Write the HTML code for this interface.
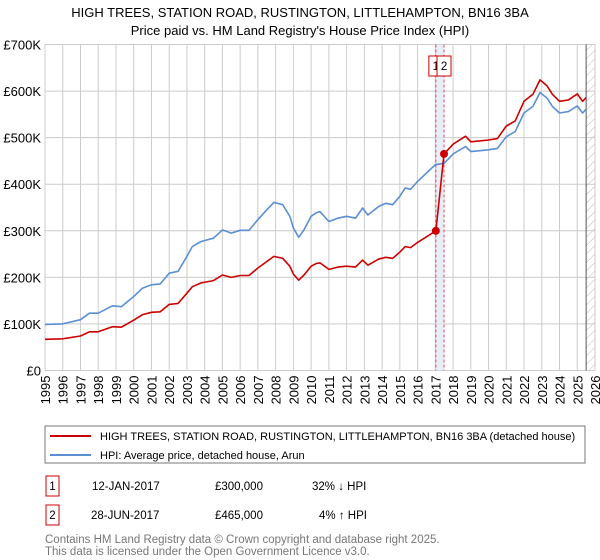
<!DOCTYPE html>
<html><head><meta charset="utf-8"><style>
body{margin:0;background:#fff;font-family:"Liberation Sans","DejaVu Sans",sans-serif;}
#wrap{position:relative;width:600px;height:560px;overflow:hidden}
</style></head><body>
<div id="wrap">
<svg id="chart" width="600" height="560" xmlns="http://www.w3.org/2000/svg" font-family="Liberation Sans, DejaVu Sans, sans-serif">
<text x="300" y="17" text-anchor="middle" font-size="13" fill="#000">HIGH TREES, STATION ROAD, RUSTINGTON, LITTLEHAMPTON, BN16 3BA</text>
<text x="300" y="35" text-anchor="middle" font-size="13" fill="#000">Price paid vs. HM Land Registry's House Price Index (HPI)</text>
<g id="grid"></g>
<g id="marks"></g>
<g id="axes"></g>
<rect x="45" y="426" width="540" height="37" fill="none" stroke="#777" stroke-width="1"/>
<line x1="50" y1="436" x2="91" y2="436" stroke="#cc0000" stroke-width="2"/>
<text x="100" y="440" font-size="11">HIGH TREES, STATION ROAD, RUSTINGTON, LITTLEHAMPTON, BN16 3BA (detached house)</text>
<line x1="50" y1="455" x2="91" y2="455" stroke="#5b8fd4" stroke-width="2"/>
<text x="100" y="459" font-size="11">HPI: Average price, detached house, Arun</text>
<g font-size="11.5">
<rect x="46" y="476" width="13" height="20" fill="none" stroke="#cc0000"/>
<text x="52.5" y="490" text-anchor="middle">1</text>
<text x="92" y="490">12-JAN-2017</text>
<text x="215" y="490">£300,000</text>
<text x="312" y="490">32% ↓ HPI</text>
</g>
<g font-size="11.5">
<rect x="46" y="505" width="13" height="20" fill="none" stroke="#cc0000"/>
<text x="52.5" y="519" text-anchor="middle">2</text>
<text x="91" y="519">28-JUN-2017</text>
<text x="215" y="519">£465,000</text>
<text x="319" y="519">4% ↑ HPI</text>
</g>
<text x="45" y="543" font-size="11.5" fill="#777">Contains HM Land Registry data © Crown copyright and database right 2025.</text>
<text x="45" y="555" font-size="11.5" fill="#777">This data is licensed under the Open Government Licence v3.0.</text>
</svg>
</div>
<script>
const hpiYears=[1995,1996,1997,1997.5,1998,1998.8,1999.3,2000,2000.5,2001,2001.5,2002,2002.5,2003,2003.3,2003.8,2004.5,2005,2005.5,2006,2006.5,2007,2007.5,2007.9,2008.4,2008.8,2009,2009.3,2009.6,2010,2010.3,2010.5,2011,2011.5,2012,2012.5,2012.9,2013.2,2013.8,2014.2,2014.6,2015,2015.3,2015.6,2016,2016.5,2017,2017.5,2018,2018.7,2019,2019.5,2020,2020.5,2021,2021.5,2022,2022.5,2022.9,2023.3,2023.6,2024,2024.5,2025,2025.3,2025.5];
const hpiValues=[99,100,109,123,123,139,137,159,177,184,186,209,213,245,266,277,284,302,295,301,301,324,345,361,356,331,306,286,302,331,339,341,320,327,331,327,349,334,352,359,356,374,392,389,406,424,442,445,465,481,470,472,474,477,502,513,553,567,597,585,567,553,556,568,553,561];
const propYears=[1995,1996,1997,1997.5,1998,1998.8,1999.3,2000,2000.5,2001,2001.5,2002,2002.5,2003,2003.3,2003.8,2004.5,2005,2005.5,2006,2006.5,2007,2007.5,2007.9,2008.4,2008.8,2009,2009.3,2009.6,2010,2010.3,2010.5,2011,2011.5,2012,2012.5,2012.9,2013.2,2013.8,2014.2,2014.6,2015,2015.3,2015.6,2016,2016.5,2017.03,2017.49,2018,2018.7,2019,2019.5,2020,2020.5,2021,2021.5,2022,2022.5,2022.9,2023.3,2023.6,2024,2024.5,2025,2025.3,2025.5];
const propValues=[67,68,74,83,83,94,93,108,120,125,126,142,144,166,180,188,193,205,200,204,204,220,234,245,241,224,207,194,205,224,230,231,217,222,224,222,237,226,239,243,241,254,266,264,275,287,300,465,486,503,491,493,495,498,525,536,578,593,624,611,593,578,581,594,578,586];
const saleYears=[2017.03,2017.49];
const saleValues=[300,465];
const saleLabels=["1","2"];
const yTicks=[0,100,200,300,400,500,600,700];
const yTickLabels=["£0","£100K","£200K","£300K","£400K","£500K","£600K","£700K"];
const xTicks=[1995,1996,1997,1998,1999,2000,2001,2002,2003,2004,2005,2006,2007,2008,2009,2010,2011,2012,2013,2014,2015,2016,2017,2018,2019,2020,2021,2022,2023,2024,2025,2026];

const X0=45,X1=595,Y0=370.5,Y1=44.5,XMIN=1995,XMAX=2026,YMAX=700;
const sx=v=>X0+(v-XMIN)/(XMAX-XMIN)*(X1-X0);
const sy=v=>Y0-v/YMAX*(Y0-Y1);
const NS="http://www.w3.org/2000/svg";
function mk(tag,attrs,parent){const e=document.createElementNS(NS,tag);for(const k in attrs)e.setAttribute(k,attrs[k]);parent.appendChild(e);return e;}
const grid=document.getElementById('grid'),marks=document.getElementById('marks'),axes=document.getElementById('axes');

const defs=mk('defs',{},grid);
const pat=mk('pattern',{id:'hatch',width:6,height:6,patternUnits:'userSpaceOnUse',patternTransform:'rotate(45)'},defs);
mk('line',{x1:0,y1:0,x2:0,y2:6,stroke:'#bbb','stroke-width':1},pat);
const hatch=mk('rect',{x:sx(2025.5),y:Y1,width:X1-sx(2025.5),height:Y0-Y1,fill:'url(#hatch)'},grid);



yTicks.forEach((t,i)=>{
  const l=mk('line',{x1:X0,x2:X1,y1:sy(t),y2:sy(t),stroke:'#ccc','stroke-width':1},grid);
  
  
  const tx=mk('text',{x:X0-4,y:sy(t)+5,'text-anchor':'end','font-size':13,fill:'#000'},axes);
  tx.textContent=yTickLabels[i];
  
  
});
xTicks.forEach(t=>{
  const l=mk('line',{x1:sx(t),x2:sx(t),y1:Y1,y2:Y0,stroke:'#ccc','stroke-width':1},grid);
  
  
  const tx=mk('text',{x:0,y:0,'text-anchor':'end','font-size':13,fill:'#000',transform:`translate(${sx(t)+5},${Y0+5}) rotate(-90)`},axes);
  tx.textContent=t;
  
  
});
const nowLine=mk('line',{x1:sx(2025.5),x2:sx(2025.5),y1:Y1,y2:Y0,stroke:'#555','stroke-width':1},grid);



const shade=mk('rect',{x:sx(saleYears[0]),y:Y1,width:sx(saleYears[1])-sx(saleYears[0]),height:Y0-Y1,fill:'#dde8f8',opacity:0.7},marks);


saleYears.forEach((y,i)=>{
  const l=mk('line',{x1:sx(y),x2:sx(y),y1:Y1,y2:Y0,stroke:'#e05050','stroke-width':1,'stroke-dasharray':'3,2'},marks);
  
  
});

function path(xs,ys,col,name){
  const d=xs.map((x,i)=>(i?'L':'M')+sx(x).toFixed(1)+','+sy(ys[i]).toFixed(1)).join('');
  const p=mk('path',{d:d,fill:'none',stroke:col,'stroke-width':1.6,'stroke-linejoin':'round'},marks);
  
  
}
path(hpiYears,hpiValues,'#5b8fd4','hpi-line');
path(propYears,propValues,'#cc0000','property-line');

saleYears.forEach((y,i)=>{
  const c=mk('circle',{cx:sx(y),cy:sy(saleValues[i]),r:4,fill:'#cc0000'},marks);
  
  
});
saleYears.forEach((y,i)=>{
  const g=mk('g',{},marks);
  
  
  mk('rect',{x:sx(y)-7,y:56,width:14,height:20,fill:'#fff',stroke:'#cc0000','stroke-width':1},g);
  const t=mk('text',{x:sx(y),y:70,'text-anchor':'middle','font-size':11.5},g);
  t.textContent=saleLabels[i];
});
</script>
</body></html>
